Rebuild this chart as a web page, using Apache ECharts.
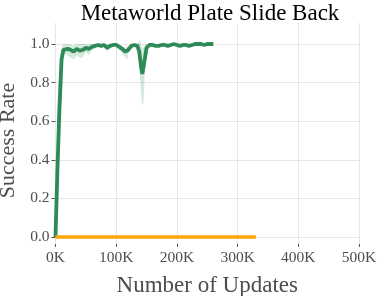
<!DOCTYPE html>
<html><head><meta charset="utf-8">
<script src="https://cdn.jsdelivr.net/npm/echarts@6/dist/echarts.min.js"></script>
<style>html,body{margin:0;padding:0;background:#fff}#c{width:379px;height:296px}</style>
</head><body><div id="c"></div>
<script>
// Data (x in updates)
const steps = [0,3000,6000,10000,13000,16000,20000,25000,30000,35000,40000,45000,50000,55000,60000,65000,70000,75000,80000,85000,90000,95000,100000,105000,110000,115000,118000,120000,125000,130000,135000,138000,141000,143000,145000,147000,150000,155000,160000,165000,170000,175000,180000,185000,190000,195000,200000,205000,210000,215000,220000,225000,230000,235000,240000,245000,250000,255000,260000];
const greenMean = [0,0.33,0.62,0.92,0.97,0.98,0.975,0.97,0.96,0.975,0.965,0.97,0.98,0.975,0.985,0.99,0.995,0.99,0.995,0.98,0.99,0.995,0.995,0.985,0.975,0.96,0.955,0.97,0.99,0.995,0.99,0.96,0.88,0.845,0.85,0.92,0.98,0.995,0.995,0.99,0.99,0.995,0.995,0.99,0.995,1.0,0.995,0.99,0.995,0.995,0.99,0.995,1.0,1.0,1.0,0.995,1.0,1.0,1.0];
const greenLow  = [0,0.08,0.4,0.82,0.94,0.95,0.94,0.93,0.92,0.94,0.93,0.93,0.96,0.94,0.97,0.98,0.99,0.98,0.99,0.96,0.98,0.99,0.99,0.97,0.95,0.93,0.92,0.95,0.98,0.99,0.98,0.9,0.74,0.68,0.7,0.85,0.96,0.99,0.99,0.985,0.985,0.99,0.99,0.985,0.99,0.995,0.99,0.985,0.99,0.99,0.985,0.99,0.995,0.995,0.995,0.99,0.995,0.995,0.995];
const greenHigh = [0.05,0.7,0.85,0.98,1.0,1.0,1.0,1.0,0.99,1.0,1.0,1.0,1.0,1.0,1.0,1.0,1.0,1.0,1.0,0.995,1.0,1.0,1.0,0.995,0.99,0.98,0.99,0.99,1.0,1.0,1.0,1.02,1.0,0.98,0.98,0.99,1.0,1.0,1.0,0.995,0.995,1.0,1.0,0.995,1.0,1.0,1.0,0.995,1.0,1.0,0.995,1.0,1.0,1.0,1.0,1.0,1.0,1.0,1.0];
const orangeSteps = [0,330000];
const orangeVals = [0,0];
const xTicks = [0,100000,200000,300000,400000,500000];
const yTicks = [0,0.2,0.4,0.6,0.8,1.0];

const pairs = (xs, ys) => xs.map((x,i)=>[x,ys[i]]);
const font = '"Liberation Serif","DejaVu Serif",serif';
const chart = echarts.init(document.getElementById('c'), null, {renderer:'canvas'});
chart.setOption({
  animation:false,
  title:{text:'Metaworld Plate Slide Back',left:205,textAlign:'center',top:-3,textStyle:{fontFamily:font,fontSize:23,fontWeight:'normal',color:'#000'}},
  grid:[
    {left:55.5,right:20,top:44,bottom:59,containLabel:false,outerBoundsMode:'none'},
    {left:55.5,right:20,top:23,bottom:52,containLabel:false,outerBoundsMode:'none'}
  ],
  xAxis:[
    {gridIndex:0,type:'value',min:0,max:500000,interval:100000,show:false,splitLine:{show:false}},
    {gridIndex:1,type:'value',min:0,max:500000,interval:100000,
     axisLine:{show:false},
     axisTick:{show:true,length:3,lineStyle:{color:'#555',width:1}},
     splitLine:{show:true,lineStyle:{color:'#e6e6e6',width:1}},
     axisLabel:{fontFamily:font,fontSize:15.5,color:'#4d4d4d',margin:6,formatter:v=>(v/1000)+'K'},
     name:'Number of Updates',nameLocation:'middle',nameGap:30,
     nameTextStyle:{fontFamily:font,fontSize:23,color:'#4d4d4d'}}
  ],
  yAxis:[
    {gridIndex:0,type:'value',min:0,max:1,interval:0.2,
     axisLine:{show:false},
     axisTick:{show:true,length:4,lineStyle:{color:'#555'}},
     splitLine:{show:true,lineStyle:{color:'#e6e6e6',width:1}},
     axisLabel:{fontFamily:font,fontSize:15.5,color:'#4d4d4d',margin:6,formatter:v=>v.toFixed(1)},
     name:'Success Rate',nameLocation:'middle',nameGap:36,
     nameTextStyle:{fontFamily:font,fontSize:22,color:'#4d4d4d'}},
    {gridIndex:1,type:'value',show:false,splitLine:{show:false}}
  ],
  series:[
    {type:'custom',xAxisIndex:0,yAxisIndex:0,silent:true,clip:false,
     data:steps.map((x,i)=>[x,greenLow[i],greenHigh[i]]),
     encode:{x:0,y:[1,2]},
     renderItem:function(params, api){
       if (params.dataIndex !== 0) return null;
       const up = steps.map((x,i)=>api.coord([x,greenHigh[i]]));
       const lo = steps.map((x,i)=>api.coord([x,greenLow[i]])).reverse();
       return {type:'polygon',shape:{points:up.concat(lo)},style:{fill:'rgba(46,139,87,0.2)'}};
     }},
    {type:'line',xAxisIndex:0,yAxisIndex:0,data:pairs(steps,greenMean),symbol:'none',lineStyle:{color:'#2e8b57',width:3.8},clip:false},
    {type:'line',xAxisIndex:0,yAxisIndex:0,data:pairs(orangeSteps,orangeVals),symbol:'none',lineStyle:{color:'#ffa500',width:3.5},clip:false}
  ]
});
</script></body></html>
